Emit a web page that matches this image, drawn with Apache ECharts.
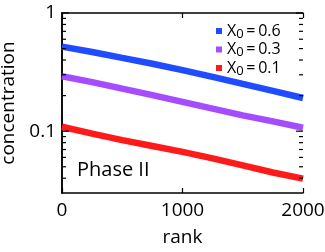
<!DOCTYPE html>
<html><head><meta charset="utf-8">
<script src="https://cdn.jsdelivr.net/npm/echarts@6/dist/echarts.min.js"></script>
<style>html,body{margin:0;padding:0;background:#fff}#c{width:325px;height:252px}</style>
</head><body><div id="c"></div>
<script>
var ranks = [0, 250, 500, 750, 1000, 1250, 1500, 1750, 2000];
var seriesNames = ['X0 = 0.6', 'X0 = 0.3', 'X0 = 0.1'];
var x0Labels = ['0.6', '0.3', '0.1'];
var blueVals = [0.519, 0.468, 0.417, 0.372, 0.329, 0.288, 0.251, 0.219, 0.191];
var purpleVals = [0.292, 0.260, 0.229, 0.202, 0.177, 0.155, 0.136, 0.121, 0.107];
var redVals = [0.109, 0.0955, 0.0841, 0.075, 0.0668, 0.0589, 0.0513, 0.0447, 0.0397];
var yMinorTicks = [0.04, 0.05, 0.06, 0.07, 0.08, 0.09, 0.2, 0.3, 0.4, 0.5, 0.6, 0.7, 0.8, 0.9];
var yMajorTicks = [0.1, 1];
var colors = ['#1f4cff', '#a64cff', '#ff1a1a'];

var FONT = 'Open Sans';
var chart = echarts.init(document.getElementById('c'));
function pairs(v){ return ranks.map(function(r,i){ return [r, v[i]]; }); }
var allVals = [blueVals, purpleVals, redVals];

var series = allVals.map(function(v, i){
  return {
    name: seriesNames[i], type: 'line', data: pairs(v), showSymbol: false, symbol: 'rect',
    lineStyle: {width: 6.5, color: colors[i], cap: 'butt'}, itemStyle: {color: colors[i]},
    smooth: false, animation: false, z: 3
  };
});
series.push({
  type: 'custom', coordinateSystem: 'cartesian2d', silent: true, animation: false, z: 5,
  data: yMinorTicks.map(function(t){ return [t, 4]; }).concat(yMajorTicks.map(function(t){ return [t, 7]; })),
  renderItem: function(params, api){
    var y = api.coord([0, api.value(0)])[1];
    var len = api.value(1);
    var x0 = params.coordSys.x, x1 = params.coordSys.x + params.coordSys.width;
    var st = {stroke: '#000', lineWidth: 1.2};
    return {type: 'group', children: [
      {type: 'line', shape: {x1: x0, y1: y, x2: x0 + len, y2: y}, style: st},
      {type: 'line', shape: {x1: x1, y1: y, x2: x1 - len, y2: y}, style: st}
    ]};
  },
  encode: {x: -1, y: 0}
});

var axLine = {show: true, lineStyle: {color: '#000', width: 1.5}};
var ts = '\u2009';
var option = {
  animation: false,
  textStyle: {fontFamily: FONT},
  grid: {left: 62, right: 22, top: 13, bottom: 59, containLabel: false, outerBoundsMode: 'none'},
  legend: {
    data: seriesNames, orient: 'vertical', left: 211, top: 18, itemGap: 1,
    icon: 'rect', itemWidth: 6, itemHeight: 6,
    textStyle: {fontFamily: FONT, fontSize: 16, color: '#000',
      rich: {a: {fontSize: 16, fontFamily: FONT, color: '#000'}, s: {fontSize: 13, fontFamily: FONT, color: '#000', verticalAlign: 'bottom', padding: [6,0,0,0]}}},
    formatter: function(name){ var i = seriesNames.indexOf(name); return '{a|X}{s|0}{a|' + ts + '=' + ts + x0Labels[i] + '}'; }
  },
  xAxis: [{
    type: 'value', min: 0, max: 2000, interval: 1000, position: 'bottom',
    name: 'rank', nameLocation: 'middle', nameGap: 35,
    nameTextStyle: {fontFamily: FONT, fontSize: 19, color: '#000'},
    axisLine: axLine, axisTick: {show: true, inside: true, length: 5, lineStyle: {color: '#000', width: 1.2}},
    axisLabel: {fontFamily: FONT, fontSize: 19, color: '#000', margin: 8, formatter: function(v){ return String(v); }},
    splitLine: {show: false}
  }, {
    type: 'value', min: 0, max: 2000, interval: 1000, position: 'top',
    axisLine: axLine, axisTick: {show: true, inside: true, length: 5, lineStyle: {color: '#000', width: 1.2}},
    axisLabel: {show: false}, splitLine: {show: false}
  }],
  yAxis: [{
    type: 'log', logBase: 10, min: 0.03, max: 1, position: 'left',
    name: 'concentration', nameLocation: 'middle', nameGap: 39, nameRotate: 90,
    nameTextStyle: {fontFamily: FONT, fontSize: 19, color: '#000'},
    axisLine: axLine, axisTick: {show: false},
    axisLabel: {fontFamily: FONT, fontSize: 19, color: '#000', margin: 6,
      formatter: function(v){ if (Math.abs(v - 1) < 1e-6) return '1'; if (Math.abs(v - 0.1) < 1e-7) return '0.1'; return ''; }},
    splitLine: {show: false}, minorTick: {show: false}
  }, {
    type: 'log', logBase: 10, min: 0.03, max: 1, position: 'right',
    axisLine: axLine, axisTick: {show: false}, axisLabel: {show: false}, splitLine: {show: false}
  }],
  graphic: [
    {type: 'text', left: 77, top: 160, style: {text: 'Phase II', fontFamily: FONT, fontSize: 20, fill: '#000'}}
  ],
  series: series
};
chart.setOption(option);
</script></body></html>
